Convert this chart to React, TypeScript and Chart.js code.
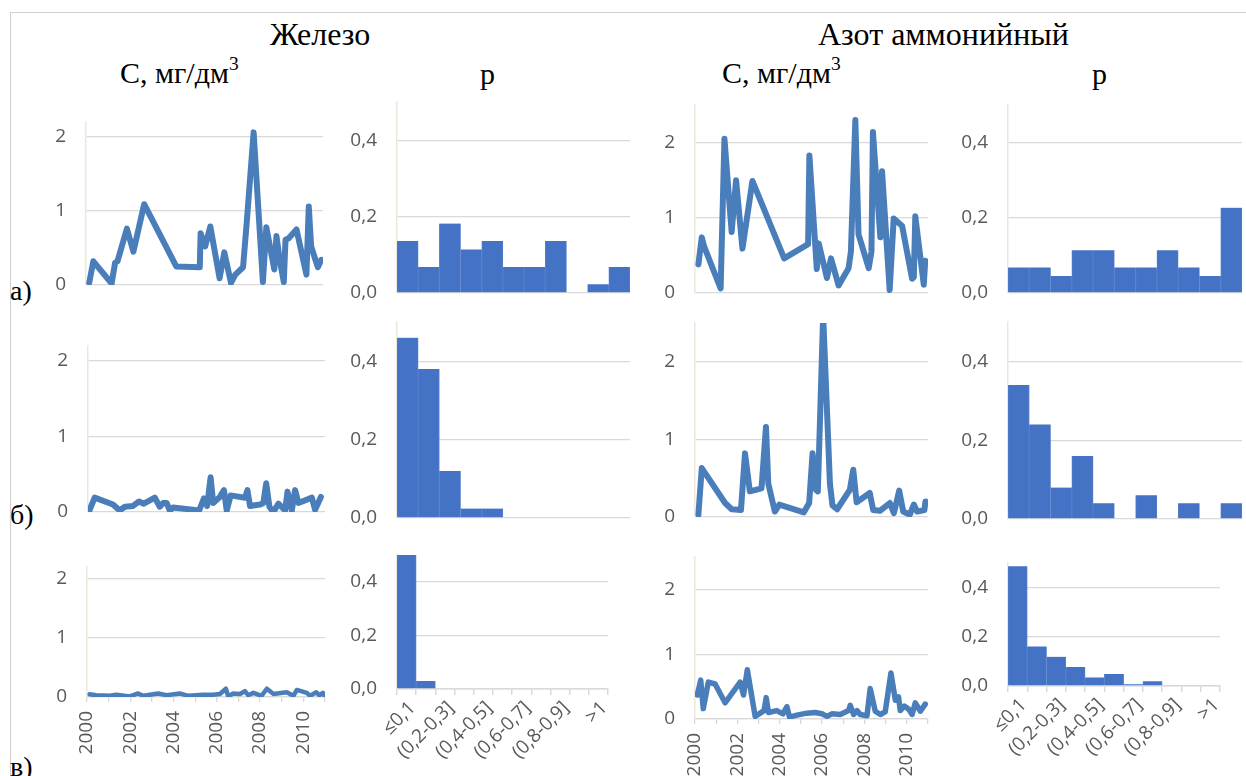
import React, { useEffect, useRef } from 'react';
import { Chart, registerables } from 'chart.js';

Chart.register(...registerables);

// ---------- data ----------
const binLabels = ['≤0,1', '(0,1-0,2]', '(0,2-0,3]', '(0,3-0,4]', '(0,4-0,5]', '(0,5-0,6]', '(0,6-0,7]', '(0,7-0,8]', '(0,8-0,9]', '(0,9-1]', '>1'];

// Железо, C (мг/дм3)
const feYearsA = [2000.15, 2000.34, 2001.19, 2001.35, 2001.46, 2001.9, 2002.2, 2002.7, 2004.19, 2005.28, 2005.32, 2005.53, 2005.77, 2006.2, 2006.42, 2006.73, 2006.93, 2007.29, 2007.47, 2007.78, 2008.21, 2008.37, 2008.74, 2008.84, 2008.99, 2009.18, 2009.26, 2009.41, 2009.77, 2010.23, 2010.34, 2010.45, 2010.76, 2010.92];
const feValsA = [0.03, 0.32, 0.02, 0.30, 0.32, 0.76, 0.45, 1.09, 0.25, 0.24, 0.70, 0.52, 0.79, 0.09, 0.44, 0.03, 0.14, 0.24, 0.88, 2.06, 0.04, 0.78, 0.21, 0.66, 0.34, 0.04, 0.61, 0.63, 0.75, 0.14, 1.06, 0.52, 0.24, 0.34];

const feYearsB = [2000.08, 2000.31, 2001.16, 2001.47, 2001.71, 2002.09, 2002.37, 2002.59, 2003.1, 2003.33, 2003.49, 2003.65, 2003.8, 2003.95, 2005.16, 2005.38, 2005.53, 2005.69, 2005.81, 2006.12, 2006.31, 2006.44, 2006.62, 2007.29, 2007.4, 2007.52, 2007.99, 2008.14, 2008.27, 2008.42, 2008.6, 2008.84, 2009.15, 2009.26, 2009.38, 2009.46, 2009.61, 2009.77, 2010.39, 2010.54, 2010.81];
const feValsB = [0.03, 0.19, 0.10, 0.02, 0.07, 0.08, 0.14, 0.11, 0.19, 0.07, 0.12, 0.12, 0.02, 0.06, 0.02, 0.18, 0.08, 0.46, 0.12, 0.20, 0.29, 0.02, 0.22, 0.19, 0.29, 0.08, 0.10, 0.12, 0.38, 0.07, 0.00, 0.11, 0.02, 0.27, 0.13, 0.02, 0.29, 0.12, 0.19, 0.03, 0.20];

const feYearsV = [2000.12, 2000.43, 2001.05, 2001.36, 2001.98, 2002.36, 2002.6, 2003.29, 2003.68, 2004.29, 2004.68, 2005.37, 2005.83, 2006.14, 2006.42, 2006.53, 2006.76, 2007.07, 2007.3, 2007.45, 2007.69, 2008.07, 2008.31, 2008.62, 2009.23, 2009.54, 2009.7, 2010.16, 2010.31, 2010.59, 2010.74, 2010.9, 2010.97];
const feValsV = [0.045, 0.03, 0.02, 0.04, 0.01, 0.06, 0.02, 0.06, 0.03, 0.06, 0.02, 0.04, 0.04, 0.05, 0.14, 0.01, 0.06, 0.05, 0.10, 0.03, 0.07, 0.02, 0.14, 0.05, 0.08, 0.02, 0.12, 0.07, 0.02, 0.08, 0.03, 0.07, 0.02];

// Азот аммонийный, C (мг/дм3)
const nYearsA = [2000.16, 2000.32, 2000.43, 2001.21, 2001.39, 2001.73, 2001.94, 2002.24, 2002.71, 2004.21, 2005.34, 2005.4, 2005.75, 2005.84, 2006.23, 2006.42, 2006.78, 2007.25, 2007.36, 2007.57, 2007.72, 2008.2, 2008.33, 2008.4, 2008.75, 2008.83, 2009.19, 2009.38, 2009.78, 2010.25, 2010.33, 2010.4, 2010.8, 2010.87];
const nValsA = [0.38, 0.74, 0.62, 0.06, 2.05, 0.81, 1.50, 0.59, 1.49, 0.46, 0.65, 1.83, 0.32, 0.66, 0.20, 0.46, 0.10, 0.33, 0.55, 2.30, 0.78, 0.33, 0.55, 2.14, 0.74, 1.62, 0.04, 0.99, 0.89, 0.19, 0.21, 1.02, 0.11, 0.43];

const nYearsB = [2000.16, 2000.32, 2001.42, 2001.73, 2002.17, 2002.36, 2002.59, 2003.14, 2003.35, 2003.46, 2003.77, 2003.98, 2005.14, 2005.39, 2005.55, 2005.71, 2005.8, 2006.05, 2006.37, 2006.49, 2006.71, 2007.31, 2007.47, 2007.63, 2008.25, 2008.41, 2008.73, 2009.2, 2009.39, 2009.64, 2009.83, 2010.14, 2010.33, 2010.49, 2010.83, 2010.88];
const nValsB = [0.03, 0.63, 0.18, 0.10, 0.09, 0.82, 0.33, 0.37, 1.16, 0.43, 0.07, 0.16, 0.06, 0.18, 0.82, 0.35, 0.33, 2.6, 0.43, 0.15, 0.10, 0.35, 0.61, 0.19, 0.31, 0.09, 0.08, 0.18, 0.05, 0.34, 0.07, 0.03, 0.16, 0.07, 0.09, 0.20];

const nYearsV = [2000.11, 2000.27, 2000.39, 2000.63, 2000.95, 2001.42, 2002.13, 2002.29, 2002.47, 2002.84, 2003.26, 2003.36, 2003.47, 2003.86, 2004.15, 2004.34, 2004.46, 2004.81, 2005.28, 2005.67, 2005.99, 2006.23, 2006.46, 2006.86, 2007.25, 2007.33, 2007.49, 2007.65, 2007.8, 2008.12, 2008.27, 2008.51, 2008.75, 2008.98, 2009.25, 2009.46, 2009.61, 2009.69, 2009.88, 2010.09, 2010.25, 2010.4, 2010.64, 2010.87];
const nValsV = [0.37, 0.60, 0.16, 0.57, 0.54, 0.25, 0.57, 0.37, 0.76, 0.04, 0.13, 0.33, 0.10, 0.13, 0.08, 0.19, 0.03, 0.06, 0.09, 0.10, 0.08, 0.04, 0.08, 0.07, 0.13, 0.21, 0.07, 0.13, 0.07, 0.05, 0.47, 0.12, 0.07, 0.11, 0.71, 0.29, 0.34, 0.13, 0.20, 0.15, 0.07, 0.25, 0.12, 0.23];

// Probabilities p
const feProbA = [0.136, 0.068, 0.182, 0.114, 0.136, 0.068, 0.068, 0.136, 0, 0.023, 0.068];
const feProbB = [0.46, 0.38, 0.12, 0.024, 0.024, 0, 0, 0, 0, 0, 0];
const feProbV = [0.95, 0.03, 0, 0, 0, 0, 0, 0, 0, 0, 0];
const nProbA = [0.068, 0.068, 0.045, 0.114, 0.114, 0.068, 0.068, 0.114, 0.068, 0.045, 0.227];
const nProbB = [0.34, 0.24, 0.08, 0.16, 0.04, 0, 0.06, 0, 0.04, 0, 0.04];
const nProbV = [0.487, 0.161, 0.119, 0.077, 0.035, 0.049, 0.007, 0.019, 0, 0, 0];

// ---------- layout ----------
const YW = 60;
const PT = 8;
const PB = 8;
const PR = 4;
const XH = 100;

type PanelCfg = {
  kind: 'line' | 'bar';
  L: number; T: number; R: number; B: number;
  ymax: number; step: number; showX: boolean;
  xs?: number[]; ys: number[]; lw?: number;
};

const panels: PanelCfg[] = [
  { kind: 'line', L: 86, T: 122, R: 323, B: 285, ymax: 2.2, step: 1, showX: false, xs: feYearsA, ys: feValsA, lw: 6 },
  { kind: 'bar', L: 397, T: 102, R: 630, B: 293, ymax: 0.5, step: 0.2, showX: false, ys: feProbA },
  { kind: 'line', L: 695, T: 105, R: 928, B: 293, ymax: 2.5, step: 1, showX: false, xs: nYearsA, ys: nValsA, lw: 6 },
  { kind: 'bar', L: 1008, T: 105, R: 1242, B: 293, ymax: 0.5, step: 0.2, showX: false, ys: nProbA },

  { kind: 'line', L: 88, T: 346, R: 325, B: 512, ymax: 2.2, step: 1, showX: false, xs: feYearsB, ys: feValsB, lw: 6 },
  { kind: 'bar', L: 397, T: 322, R: 630, B: 518, ymax: 0.5, step: 0.2, showX: false, ys: feProbB },
  { kind: 'line', L: 695, T: 323, R: 928, B: 517, ymax: 2.5, step: 1, showX: false, xs: nYearsB, ys: nValsB, lw: 6 },
  { kind: 'bar', L: 1008, T: 322, R: 1242, B: 519, ymax: 0.5, step: 0.2, showX: false, ys: nProbB },

  { kind: 'line', L: 87, T: 567, R: 325, B: 697, ymax: 2.2, step: 1, showX: true, xs: feYearsV, ys: feValsV, lw: 4.5 },
  { kind: 'bar', L: 397, T: 555, R: 608, B: 689, ymax: 0.5, step: 0.2, showX: true, ys: feProbV },
  { kind: 'line', L: 695, T: 557, R: 928, B: 719, ymax: 2.5, step: 1, showX: true, xs: nYearsV, ys: nValsV, lw: 5.5 },
  { kind: 'bar', L: 1008, T: 563, R: 1220, B: 686, ymax: 0.5, step: 0.2, showX: true, ys: nProbV },
];

const TICK_FONT = { family: "'Open Sans', sans-serif", size: 19 };
const TICK_COLOR = '#595959';
const GRID_COLOR = '#D9D9D9';

function Panel({ cfg }: { cfg: PanelCfg }) {
  const ref = useRef<HTMLCanvasElement>(null);
  const width = cfg.R - cfg.L + YW + PR;
  const height = cfg.B - cfg.T + PT + (cfg.showX ? XH : PB);

  useEffect(() => {
    if (!ref.current) return;
    const yFmt = (v: any) => (cfg.step < 1 ? Number(v).toFixed(1).replace('.', ',') : String(v));
    const yScale: any = {
      min: 0,
      max: cfg.ymax,
      ticks: { stepSize: cfg.step, includeBounds: false, padding: 20, color: TICK_COLOR, font: TICK_FONT, callback: yFmt },
      grid: { color: GRID_COLOR, lineWidth: 1.3, drawTicks: false },
      border: { display: true, color: '#ECE7DC', width: 1.5 },
      afterFit: (s: any) => { s.width = YW; s.paddingTop = 0; s.paddingBottom = 0; },
    };
    const xAfterFit = (s: any) => {
      if (cfg.showX) s.height = XH;
      s.paddingLeft = 0; s.paddingRight = 0;
    };
    let xScale: any;
    let data: any;
    if (cfg.kind === 'line') {
      xScale = {
        type: 'linear', min: 2000, max: 2011, display: cfg.showX,
        ticks: {
          stepSize: 1, autoSkip: false, maxRotation: 90, minRotation: 90, padding: 9,
          color: TICK_COLOR, font: TICK_FONT,
          callback: (v: any) => (Number(v) % 2 === 0 && Number(v) <= 2010 ? String(v) : ''),
        },
        grid: { drawOnChartArea: false, drawTicks: true, tickLength: 5, color: GRID_COLOR, lineWidth: 1.3 },
        border: { display: true, color: GRID_COLOR, width: 1.3 },
        afterFit: xAfterFit,
      };
      data = {
        datasets: [{
          data: (cfg.xs || []).map((x, i) => ({ x, y: cfg.ys[i] })),
          borderColor: '#4A7EBB', borderWidth: cfg.lw, pointRadius: 0, tension: 0,
          borderJoinStyle: 'round', borderCapStyle: 'round', fill: false,
        }],
      };
    } else {
      xScale = {
        type: 'category', display: cfg.showX, offset: true,
        ticks: {
          autoSkip: false, maxRotation: 45, minRotation: 45, padding: 2, labelOffset: 6,
          color: TICK_COLOR, font: TICK_FONT,
          callback: (_v: any, i: number) => (i % 2 ? '' : binLabels[i]),
        },
        grid: { offset: true, drawOnChartArea: false, drawTicks: true, tickLength: 6, color: GRID_COLOR, lineWidth: 1.5 },
        border: { display: true, color: GRID_COLOR, width: 1.5 },
        afterFit: xAfterFit,
      };
      data = {
        labels: binLabels,
        datasets: [{
          data: cfg.ys, backgroundColor: '#4472C4', borderColor: '#5B83CC',
          borderWidth: { left: 0.8, right: 0.8, top: 0, bottom: 0 },
          barPercentage: 1, categoryPercentage: 1, clip: 0,
        }],
      };
    }
    const chart = new Chart(ref.current, {
      type: cfg.kind,
      data,
      options: {
        responsive: false,
        animation: false,
        devicePixelRatio: 1,
        events: [],
        layout: { autoPadding: false, padding: { left: 0, top: PT, right: PR, bottom: cfg.showX ? 0 : PB } },
        plugins: { legend: { display: false }, tooltip: { enabled: false }, title: { display: false } },
        scales: { x: xScale, y: yScale },
      } as any,
    });
    return () => chart.destroy();
  }, []);

  return (
    <canvas
      ref={ref}
      width={width}
      height={height}
      style={{ position: 'absolute', left: cfg.L - YW, top: cfg.T - PT, width, height }}
    />
  );
}

const serif = "'Liberation Serif', 'Times New Roman', serif";

function Label({ text, left, top, size, sup }: { text: string; left: number; top: number; size: number; sup?: string }) {
  return (
    <div style={{ position: 'absolute', left, top, fontFamily: serif, fontSize: size, lineHeight: 1, color: '#000', whiteSpace: 'nowrap' }}>
      {text}
      {sup ? <sup style={{ fontSize: size * 0.65, verticalAlign: 'top', position: 'relative', top: -4 }}>{sup}</sup> : null}
    </div>
  );
}

export default function App() {
  return (
    <div style={{ position: 'fixed', left: 0, top: 0, width: 1246, height: 776, overflow: 'hidden', background: '#fff' }}>
      <div style={{ position: 'absolute', left: 10, top: 12, width: 1246, height: 800, borderLeft: '1.5px solid #D0D0D0', borderTop: '1.5px solid #D0D0D0' }} />
      <Label text="Железо" left={270} top={18} size={32} />
      <Label text="Азот аммонийный" left={818} top={18} size={32} />
      <Label text="С, мг/дм" sup="3" left={120} top={58} size={30} />
      <Label text="р" left={480} top={59} size={30} />
      <Label text="С, мг/дм" sup="3" left={722} top={58} size={30} />
      <Label text="р" left={1092} top={59} size={30} />
      <Label text="а)" left={10} top={277} size={28} />
      <Label text="б)" left={10} top={501} size={28} />
      <Label text="в)" left={10} top={753} size={28} />
      {panels.map((p, i) => <Panel key={i} cfg={p} />)}
    </div>
  );
}
